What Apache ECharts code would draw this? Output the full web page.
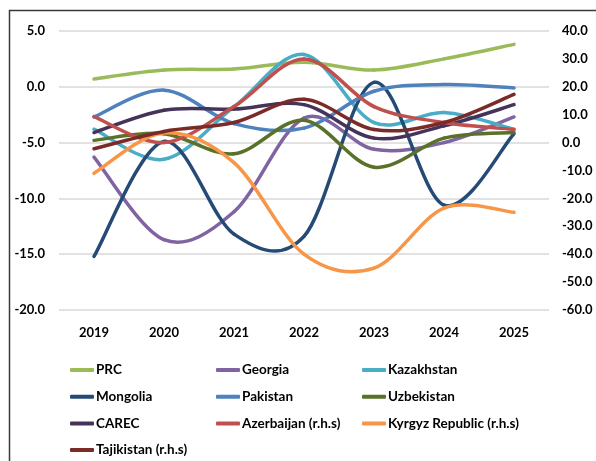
<!DOCTYPE html>
<html>
<head>
<meta charset="utf-8">
<script src="https://cdn.jsdelivr.net/npm/echarts@6/dist/echarts.min.js"></script>
<style>
  html, body { margin: 0; padding: 0; background: #fff; }
  #main { width: 596px; height: 461px; }
</style>
</head>
<body>
<div id="main"></div>
<script>
// years on the x axis
const years = ['2019', '2020', '2021', '2022', '2023', '2024', '2025'];

// left hand scale
const prc = [0.7, 1.5, 1.6, 2.2, 1.5, 2.5, 3.8];
const georgia = [-6.3, -13.7, -11.2, -2.8, -5.6, -5.0, -2.7];
const kazakhstan = [-3.8, -6.5, -1.8, 2.9, -3.2, -2.3, -3.8];
const mongolia = [-15.2, -4.9, -13.2, -13.4, 0.4, -10.6, -4.2];
const pakistan = [-2.7, -0.3, -3.3, -3.7, -0.4, 0.2, -0.1];
const uzbekistan = [-4.8, -4.2, -6.0, -3.0, -7.2, -4.6, -4.1];
const carec = [-4.1, -2.1, -2.0, -1.6, -4.6, -3.5, -1.6];

// right hand scale (r.h.s)
const azerbaijan = [9.3, 0.0, 12.9, 30.0, 12.9, 7.2, 4.7];
const kyrgyz = [-11.0, 3.5, -7.2, -40.0, -45.0, -23.5, -25.0];
const tajikistan = [-2.2, 4.0, 7.2, 15.5, 4.7, 7.2, 17.3];

const font = 'Lato, sans-serif';
const fsize = 13;

var myChart = echarts.init(document.getElementById('main'));

// excel-like smoothed line: one bezier segment per point, catmull-rom control points
function curve(name, values, color, axis) {
  const n = values.length;
  return {
    name: name,
    type: 'custom',
    yAxisIndex: axis,
    itemStyle: { color: color },
    data: values.map((v, i) => [i, v]),
    encode: { x: 0, y: 1 },
    z: 3,
    renderItem: function (params, api) {
      const i = params.dataIndex;
      if (i >= n - 1) return { type: 'group', children: [] };
      const pt = k => {
        const j = Math.max(0, Math.min(n - 1, k));
        return api.coord([j, values[j]]);
      };
      const p0 = pt(i - 1), p1 = pt(i), p2 = pt(i + 1), p3 = pt(i + 2);
      const t = 1 / 6;
      return {
        type: 'bezierCurve',
        shape: {
          x1: p1[0], y1: p1[1], x2: p2[0], y2: p2[1],
          cpx1: p1[0] + (p2[0] - p0[0]) * t, cpy1: p1[1] + (p2[1] - p0[1]) * t,
          cpx2: p2[0] - (p3[0] - p1[0]) * t, cpy2: p2[1] - (p3[1] - p1[1]) * t
        },
        style: { stroke: color, lineWidth: 3.5, fill: null, lineCap: 'round' }
      };
    }
  };
}

function legendCol(left, names) {
  return {
    orient: 'vertical',
    left: left,
    top: 362,
    padding: 0,
    icon: 'roundRect',
    itemWidth: 24,
    itemHeight: 4,
    itemGap: 10.7,
    selectedMode: false,
    data: names,
    textStyle: { fontFamily: font, fontWeight: 'bold', fontSize: 13.5, lineHeight: 16, color: '#000', padding: [0, 0, 0, -3] }
  };
}

var option = {
  animation: false,
  backgroundColor: '#fff',
  graphic: [{
    type: 'rect',
    shape: { x: 9.5, y: 10.5, width: 800, height: 800 },
    style: { fill: null, stroke: '#3a3a3a', lineWidth: 1.5 },
    silent: true
  }],
  grid: { left: 59, right: 47, top: 31, bottom: 151 },
  legend: [
    legendCol(70, ['PRC', 'Mongolia', 'CAREC', 'Tajikistan (r.h.s)']),
    legendCol(216, ['Georgia', 'Pakistan', 'Azerbaijan (r.h.s)']),
    legendCol(362, ['Kazakhstan', 'Uzbekistan', 'Kyrgyz Republic (r.h.s)'])
  ],
  xAxis: {
    type: 'category',
    data: years,
    boundaryGap: true,
    axisLine: { show: false },
    axisTick: { show: false },
    axisLabel: { fontFamily: font, fontWeight: 'bold', fontSize: fsize, color: '#000', margin: 16 }
  },
  yAxis: [{
    type: 'value',
    min: -20, max: 5, interval: 5,
    axisLabel: { fontFamily: font, fontWeight: 'bold', fontSize: fsize, color: '#000', margin: 14,
      formatter: v => v.toFixed(1) },
    splitLine: { lineStyle: { color: '#d9d9d9', width: 1.5 } },
    axisLine: { show: false },
    axisTick: { show: false }
  }, {
    type: 'value',
    min: -60, max: 40, interval: 10,
    axisLabel: { fontFamily: font, fontWeight: 'bold', fontSize: fsize, color: '#000', margin: 13,
      formatter: v => v.toFixed(1) },
    splitLine: { show: false },
    axisLine: { show: false },
    axisTick: { show: false }
  }],
  series: [
    curve('PRC', prc, '#9BBB59', 0),
    curve('Georgia', georgia, '#8064A2', 0),
    curve('Kazakhstan', kazakhstan, '#4BACC6', 0),
    curve('Mongolia', mongolia, '#254A75', 0),
    curve('Pakistan', pakistan, '#4F81BD', 0),
    curve('Uzbekistan', uzbekistan, '#5A7129', 0),
    curve('CAREC', carec, '#45335A', 0),
    curve('Azerbaijan (r.h.s)', azerbaijan, '#C0504D', 1),
    curve('Kyrgyz Republic (r.h.s)', kyrgyz, '#F79646', 1),
    curve('Tajikistan (r.h.s)', tajikistan, '#7A2B28', 1)
  ]
};

myChart.setOption(option);
</script>
</body>
</html>
